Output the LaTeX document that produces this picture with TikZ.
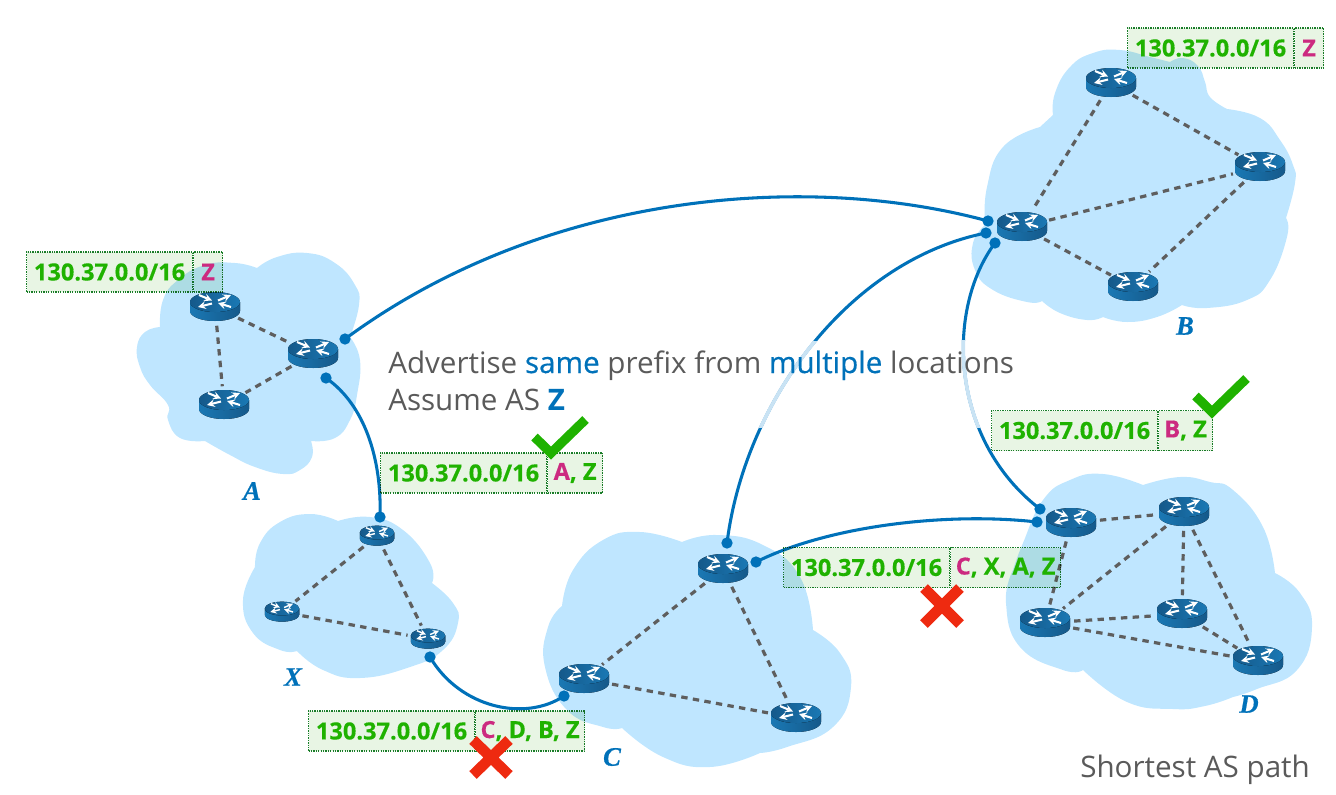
\documentclass[tikz,border=0pt]{standalone}
\usepackage{fontspec}
\usetikzlibrary{shapes.geometric,positioning}
\setmainfont{Open Sans}
\newfontface\asfont[FakeBold=0.6]{Liberation Serif Bold Italic}
\newfontface\semifont[FakeBold=0.5]{Open Sans}
\newfontface\cellfont[FakeBold=0.4]{Open Sans Bold}
\definecolor{cloudblue}{HTML}{BFE6FF}
\definecolor{linkblue}{HTML}{0071B9}
\definecolor{fadeblue}{HTML}{C9E3F4}
\definecolor{dashgray}{HTML}{5E5E5E}
\definecolor{textgray}{HTML}{5A5A5A}
\definecolor{okgreen}{HTML}{1FB200}
\definecolor{boxgreen}{HTML}{E8F5E4}
\definecolor{edgegreen}{HTML}{1B7F2B}
\definecolor{asPink}{HTML}{CC2A80}
\definecolor{badred}{HTML}{EE2A10}
\definecolor{rtside}{HTML}{1A78B4}
\definecolor{rtdark}{HTML}{15598A}
\newcommand{\prefixbox}[5]{%
    \begin{scope}[blend mode=multiply]
        \node [prefixcell] (#1) at (#2,#3) {};
        \node [prefixcell,right=0pt of #1,minimum width=#4*0.75pt] (#1path) {};
    \end{scope}
    \node [celltext] (#1text) at (#1.center) {130.37.0.0/16};
    \node [celltext] (#1as) at (#1path.center) {#5};
}
\newcommand{\pk}[1]{{\color{asPink}#1}}

\begin{document}
\begin{tikzpicture}[x=0.75pt,y=-0.75pt]

    \tikzset{cloudfill/.style = {fill=cloudblue}}
    \tikzset{lobe/.style = {smooth,tension=0.8}}
    \tikzset{routernode/.style = {shape=ellipse,inner sep=0pt,minimum width=37.5pt,minimum height=21.75pt}}
    \tikzset{smallrouter/.style = {routernode,minimum width=25.5pt,minimum height=15pt}}
    \tikzset{ospf/.style = {dashgray,line width=2.4pt,dash pattern=on 4.8pt off 4pt,shorten >=3pt,shorten <=3pt}}
    \tikzset{linkdot/.style = {shape=circle,fill=linkblue,inner sep=0pt,minimum size=8.5pt}}
    \tikzset{interlink/.style = {linkblue,line width=2.3pt}}
    \tikzset{fadelink/.style = {fadeblue,line width=2.7pt}}
    \tikzset{prefixcell/.style = {anchor=west,draw=edgegreen,fill=boxgreen,line width=0.8pt,dash pattern=on 1pt off 0.8pt,
        inner sep=0pt,minimum width=124.5pt,minimum height=30pt}}
    \tikzset{celltext/.style = {inner sep=0pt,text=okgreen,font=\cellfont\fontsize{17.7}{17.7}\selectfont}}
    \tikzset{mainlabel/.style = {anchor=base west,inner sep=0pt,text=textgray,font=\fontsize{22.2}{22.2}\selectfont}}
    \tikzset{aslabel/.style = {inner sep=0pt,text=linkblue,font=\asfont\fontsize{20}{20}\selectfont}}
    \tikzset{pics/routerpic/.style = {code={
        \fill [left color=rtside,right color=rtdark]
            (-25,-5) -- (-25,4) arc [start angle=180,end angle=0,x radius=25,y radius=10] -- (25,-5) -- cycle;
        \fill [left color=rtdark,right color=rtside] (0,-5) ellipse [x radius=25,y radius=10];
        \draw [white,line width=#1*1.55pt,-stealth] (-16,-12) -- (-3,-6.5);
        \draw [white,line width=#1*1.55pt,-stealth] (3,-6.5) -- (16,-12);
        \draw [white,line width=#1*1.55pt,-stealth] (-3,-3.5) -- (-17,0);
        \draw [white,line width=#1*1.55pt,-stealth] (16,0) -- (3,-4);
    }}}

    \useasboundingbox (0,0) rectangle (1336,794);

    %clouds
    \fill [cloudfill] plot [lobe] coordinates {(160,327) (163,300) (178,280) (205,265) (235,263) (257,268)}
        -- plot [lobe] coordinates {(257,268) (277,257) (307,253) (335,263) (355,285) (359,305) (350,337)}
        -- plot [lobe] coordinates {(350,337) (360,360) (357,395) (350,420) (335,438) (311,441)}
        -- plot [lobe] coordinates {(311,441) (312,457) (300,470) (283,474) (255,467) (230,455) (205,441)}
        -- plot [lobe] coordinates {(205,441) (180,438) (168,420) (168,405) (150,385) (140,367) (137,347) (145,332) (160,327)} -- cycle;
    \fill [cloudfill] plot [lobe] coordinates {(1053,115) (1055,93) (1070,67) (1093,53) (1120,50) (1150,57) (1170,62)}
        -- plot [lobe] coordinates {(1170,62) (1183,58) (1198,66) (1205,82) (1210,97) (1227,109)}
        -- plot [lobe] coordinates {(1227,109) (1260,118) (1280,140) (1293,165) (1295,183) (1286,218)}
        -- plot [lobe] coordinates {(1286,218) (1287,237) (1270,280) (1247,300) (1207,308) (1182,305)}
        -- plot [lobe] coordinates {(1182,305) (1157,317) (1127,322) (1103,317)}
        -- plot [lobe] coordinates {(1103,317) (1087,320) (1060,313) (1042,301)}
        -- plot [lobe] coordinates {(1042,301) (1027,302) (993,290) (975,270) (973,243) (985,225)}
        -- plot [lobe] coordinates {(985,225) (987,187) (1003,147) (1040,127)} -- cycle;
    \fill [cloudfill] plot [lobe] coordinates {(1143,485) (1180,477) (1210,482) (1233,490) (1263,527) (1275,573)}
        -- plot [lobe] coordinates {(1275,573) (1300,593) (1312,627) (1297,670) (1257,689) (1233,697)}
        -- plot [lobe] coordinates {(1233,697) (1205,706) (1173,709) (1127,702) (1083,670)}
        -- plot [lobe] coordinates {(1083,670) (1063,670) (1020,647) (1006,603) (1013,570)}
        -- plot [lobe] coordinates {(1013,570) (1023,543) (1043,500) (1070,480) (1103,474) (1143,485)} -- cycle;
    \fill [cloudfill] plot [lobe] coordinates {(682,542) (717,535) (763,545) (800,577) (813,630)}
        -- plot [lobe] coordinates {(813,630) (840,653) (851,687) (833,727) (787,747) (760,753)}
        -- plot [lobe] coordinates {(760,753) (710,767) (663,757) (622,728)}
        -- plot [lobe] coordinates {(622,728) (603,727) (567,710) (545,667) (548,627) (562,606)}
        -- plot [lobe] coordinates {(562,606) (573,570) (603,540) (640,532) (682,542)} -- cycle;
    \fill [cloudfill] plot [lobe] coordinates {(338,521) (370,517) (403,530) (430,563) (432,583)}
        -- plot [lobe] coordinates {(432,583) (453,603) (458,623) (443,650) (410,667) (360,678) (323,670) (297,651)}
        -- plot [lobe] coordinates {(297,651) (280,650) (253,633) (243,600) (255,567)}
        -- plot [lobe] coordinates {(255,567) (260,543) (280,522) (310,514) (338,521)} -- cycle;

    %routers
    \node [routernode] (a1) at (215,307) {};
    \node [routernode] (a2) at (313,354) {};
    \node [routernode] (a3) at (224,405) {};
    \node [routernode] (b1) at (1111,83) {};
    \node [routernode] (b2) at (1260,167) {};
    \node [routernode] (b3) at (1022,227) {};
    \node [routernode] (b4) at (1133,287) {};
    \node [routernode] (c1) at (723,569) {};
    \node [routernode] (c2) at (584,679) {};
    \node [routernode] (c3) at (796,718) {};
    \node [routernode] (d1) at (1071,523) {};
    \node [routernode] (d2) at (1184,512) {};
    \node [routernode] (d3) at (1045,623) {};
    \node [routernode] (d4) at (1182,614) {};
    \node [routernode] (d5) at (1258,661) {};
    \node [smallrouter] (x1) at (377,536) {};
    \node [smallrouter] (x2) at (282,612) {};
    \node [smallrouter] (x3) at (428,639) {};

    \foreach \from/\to in {a1/a2,a1/a3,a2/a3,b1/b2,b1/b3,b3/b2,b3/b4,b2/b4,c1/c2,c1/c3,c2/c3,
        x1/x2,x1/x3,x2/x3,d1/d2,d1/d3,d2/d3,d2/d4,d2/d5,d3/d4,d3/d5,d4/d5}
        \draw [ospf] (\from) -- (\to);

    \foreach \r/\s in {a1/1,a2/1,a3/1,b1/1,b2/1,b3/1,b4/1,c1/1,c2/1,c3/1,d1/1,d2/1,d3/1,d4/1,d5/1,x1/0.69,x2/0.69,x3/0.69}
        \pic [scale=\s] at (\r) {routerpic=\s};

    %connectors between the clouds
    \node [linkdot] (dotAb) at (345,339) {};
    \node [linkdot] (dotAx) at (326,378) {};
    \node [linkdot] (dotXa) at (380,517) {};
    \node [linkdot] (dotXc) at (430,657) {};
    \node [linkdot] (dotCx) at (564,696) {};
    \node [linkdot] (dotCb) at (727,543) {};
    \node [linkdot] (dotCd) at (756,562) {};
    \node [linkdot] (dotDb) at (1040,509) {};
    \node [linkdot] (dotDc) at (1037,522) {};
    \node [linkdot] (dotBa) at (988,221) {};
    \node [linkdot] (dotBc) at (986,233) {};
    \node [linkdot] (dotBd) at (995,243) {};

    \draw [interlink] (dotAb.center) .. controls (540,195) and (800,170) .. (dotBa.center);
    \draw [interlink] (dotAx.center) .. controls (365,405) and (382,460) .. (dotXa.center);
    \draw [interlink] (dotXc.center) .. controls (460,708) and (525,722) .. (dotCx.center);
    \draw [interlink] (dotCb.center) .. controls (745,400) and (850,260) .. (dotBc.center);
    \draw [interlink] (dotBd.center) .. controls (945,310) and (950,440) .. (dotDb.center);
    \draw [interlink] (dotCd.center) .. controls (830,525) and (950,512) .. (dotDc.center);

    \begin{scope}
        \clip (740,341) rectangle (820,427);
        \draw [fadelink] (dotCb.center) .. controls (745,400) and (850,260) .. (dotBc.center);
    \end{scope}
    \begin{scope}
        \clip (940,340) rectangle (1000,427);
        \draw [fadelink] (dotBd.center) .. controls (945,310) and (950,440) .. (dotDb.center);
    \end{scope}

    %prefix boxes
    \prefixbox{boxA}{26}{272}{29}{\pk{Z}}
    \prefixbox{boxB}{1127}{48}{29}{\pk{Z}}
    \prefixbox{boxAz}{380}{473}{55}{\pk{A}, Z}
    \prefixbox{boxBz}{991}{430.5}{54}{\pk{B}, Z}
    \prefixbox{boxCx}{783}{567.5}{110}{\pk{C}, X, A, Z}
    \prefixbox{boxCd}{308}{731}{109}{\pk{C}, D, B, Z}

    %ticks and crosses
    \draw [okgreen,line width=7pt] (534.5,437) -- (551,453) -- (585.5,419.5);
    \draw [okgreen,line width=7pt] (1195.5,396) -- (1212,412) -- (1246.5,378.5);
    \draw [badred,line width=8pt] (473,740) -- (509,775) (509,740) -- (473,775);
    \draw [badred,line width=8pt] (924,588) -- (960,624) (960,588) -- (924,624);

    %texts
    \node [mainlabel] (advertise) at (388,373) {Advertise {\semifont\color{linkblue}same} prefix from {\semifont\color{linkblue}multiple} locations};
    \node [mainlabel] (assume) at (388,410) {Assume AS {\color{linkblue}\bfseries Z}};
    \node [mainlabel] (shortest) at (1080,777) {Shortest AS path};
    \node [aslabel] (nameA) at (252,491) {A};
    \node [aslabel] (nameB) at (1185,326) {B};
    \node [aslabel] (nameC) at (612,757) {C};
    \node [aslabel] (nameD) at (1249,704) {D};
    \node [aslabel] (nameX) at (293,677) {X};

\end{tikzpicture}
\end{document}
